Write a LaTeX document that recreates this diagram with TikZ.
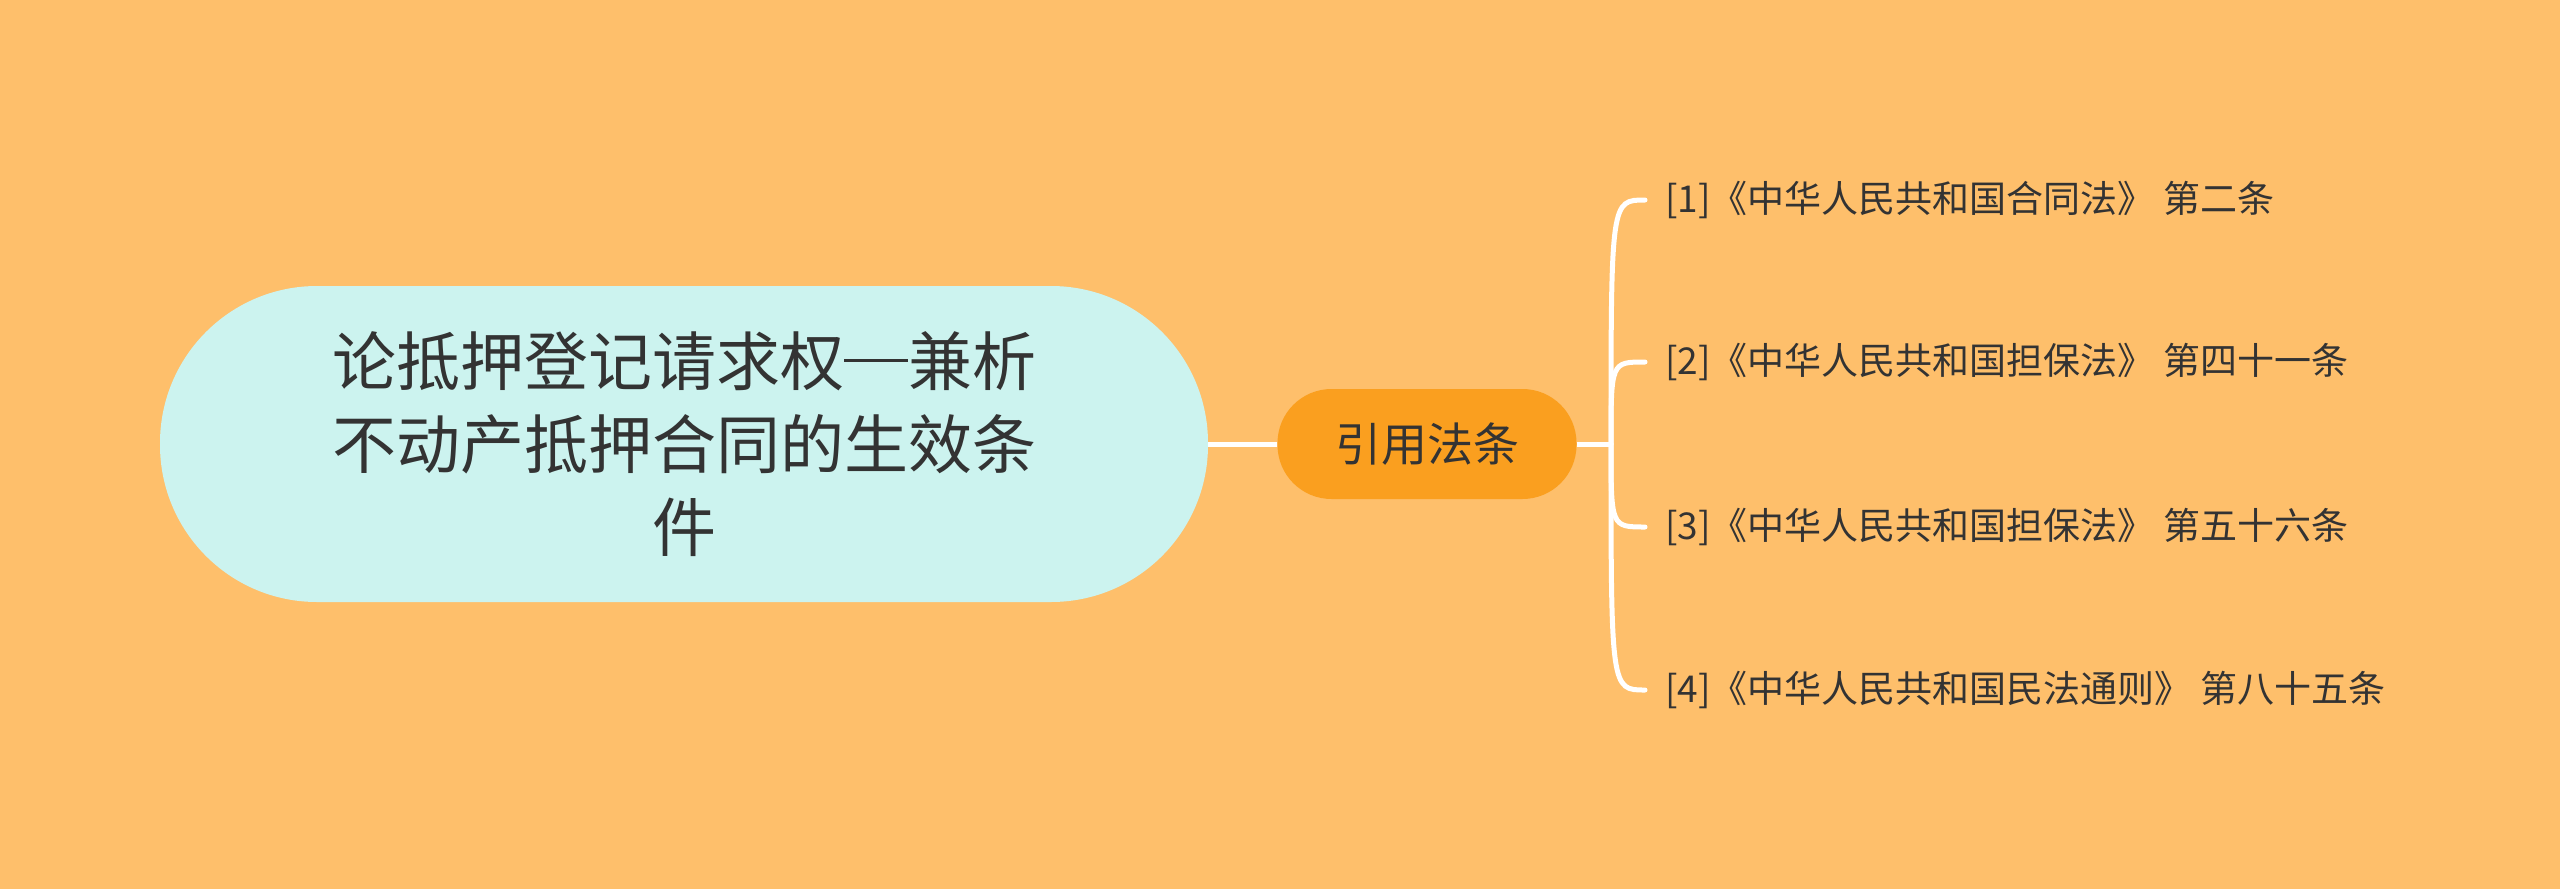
\documentclass[tikz,border=0pt]{standalone}
\usepackage{fontspec}
\setmainfont{Noto Sans CJK SC}
\definecolor{bg}{HTML}{FEBF6B}
\definecolor{rootfill}{HTML}{CCF3EF}
\definecolor{midfill}{HTML}{FA9F1F}
\definecolor{txt}{HTML}{333333}
\newcommand{\fwdash}{\rule[0.36em]{1em}{0.05em}}
\begin{document}
\begin{tikzpicture}[x=1pt,y=-1pt,
  rootbox/.style={fill=rootfill,rounded corners=157pt,minimum width=1048pt,minimum height=316pt,
    align=center,text=txt,font=\fontsize{64}{83}\selectfont,inner sep=0pt},
  midbox/.style={fill=midfill,rounded corners=54pt,minimum width=299pt,minimum height=110pt,
    text=txt,font=\fontsize{46}{56}\selectfont,inner sep=0pt},
  leafbox/.style={anchor=west,inner xsep=20pt,inner ysep=0pt,text=txt,font=\fontsize{37}{44}\selectfont},
  link/.style={draw=white,line width=5pt}]
\fill[bg] (0,0) rectangle (2560,889);
\useasboundingbox (0,0) rectangle (2560,889);
\node[rootbox] (root) at (684,444) {论抵押登记请求权\fwdash 兼析\\不动产抵押合同的生效条\\件};
\node[midbox] (mid) at (1427,444) {引用法条};
\coordinate (hub) at (1611,444);
\node[leafbox] (l1) at (1645,200) {[1]《中华人民共和国合同法》 第二条};
\node[leafbox] (l2) at (1645,362) {[2]《中华人民共和国担保法》 第四十一条};
\node[leafbox] (l3) at (1645,527) {[3]《中华人民共和国担保法》 第五十六条};
\node[leafbox] (l4) at (1645,690) {[4]《中华人民共和国民法通则》 第八十五条};
\draw[link] (root.east) -- (mid.west);
\draw[link] (mid.east) -- (hub);
\foreach \n in {l1,l2,l3,l4}{
  \draw[link,line cap=round] (hub) .. controls (hub |- \n.west) .. (\n.west);
}
\end{tikzpicture}
\end{document}
